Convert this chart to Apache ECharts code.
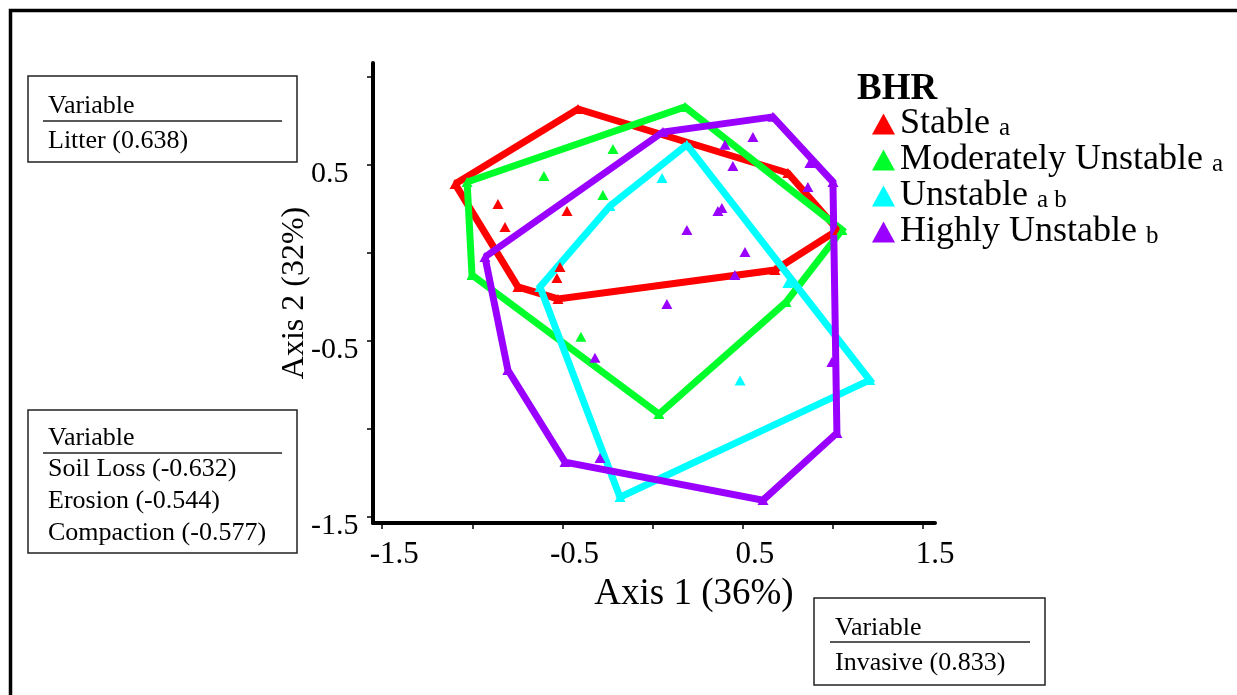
<!DOCTYPE html>
<html>
<head>
<meta charset="utf-8">
<script src="https://cdn.jsdelivr.net/npm/echarts@6/dist/echarts.min.js"></script>
<style>
  html, body { margin: 0; padding: 0; background: #fff; }
  #chart { width: 1237px; height: 695px; }
</style>
</head>
<body>
<div id="chart"></div>
<script>
// BHR groups, significance letters and colours
const groupNames = ['Stable', 'Moderately Unstable', 'Unstable', 'Highly Unstable'];
const groupLetters = ['a', 'a', 'a b', 'b'];
const groupColors = ['#ff0000', '#00ff2a', '#00ffff', '#9900ff'];

// Ordination scores [Axis 1, Axis 2]: hull corners (in drawing order) and interior plots
const stableHull = [[-1.096, 0.391], [-0.414, 0.817], [0.750, 0.453], [1.027, 0.130], [0.678, -0.098], [-0.525, -0.262], [-0.747, -0.194]];
const stableInner = [[-0.858, 0.277], [-0.819, 0.147], [-0.475, 0.238], [-0.514, -0.081], [-0.531, -0.143]];

const moderateHull = [[-1.029, 0.402], [0.179, 0.828], [1.050, 0.130], [0.740, -0.280], [0.035, -0.916], [-1.002, -0.126]];
const moderateInner = [[-0.603, 0.436], [-0.220, 0.590], [-0.276, 0.328], [-0.398, -0.477]];

const unstableHull = [[0.190, 0.613], [1.204, -0.723], [-0.181, -1.388], [-0.625, -0.194], [-0.237, 0.266]];
const unstableInner = [[0.052, 0.425], [0.485, -0.725], [0.750, -0.172]];

const highlyHull = [[-0.930, -0.024], [0.057, 0.686], [0.667, 0.772], [1.000, 0.402], [1.022, -1.024], [0.612, -1.405], [-0.486, -1.189], [-0.803, -0.666]];
const highlyInner = [[0.401, 0.613], [0.556, 0.658], [0.445, 0.493], [0.384, 0.255], [0.362, 0.238], [0.190, 0.130], [0.512, 0.005],
                     [0.861, 0.374], [0.872, 0.510], [0.456, -0.126], [0.994, -0.620], [0.079, -0.291], [-0.320, -0.597], [-0.292, -1.166]];

// Axis ticks and labelled values
const xTicks = [-1.5, -1, -0.5, 0, 0.5, 1, 1.5];
const xLabels = [-1.5, -0.5, 0.5, 1.5];
const yTicks = [-1.5, -1, -0.5, 0, 0.5, 1];
const yLabels = [-1.5, -0.5, 0.5];

// Variable loadings shown in the side boxes
const axis2Top = ['Litter (0.638)'];
const axis2Bottom = ['Soil Loss (-0.632)', 'Erosion (-0.544)', 'Compaction (-0.577)'];
const axis1Right = ['Invasive (0.833)'];

const hulls = [stableHull, moderateHull, unstableHull, highlyHull];
const inners = [stableInner, moderateInner, unstableInner, highlyInner];

const SERIF = '"Liberation Serif", "Times New Roman", serif';

const chart = echarts.init(document.getElementById('chart'), null, { renderer: 'canvas' });

const lineSeries = groupNames.map((name, i) => ({
  name: name,
  type: 'line',
  data: hulls[i].concat([hulls[i][0]]),
  showSymbol: false,
  symbol: 'none',
  lineStyle: { color: groupColors[i], width: 7, join: 'miter' },
  itemStyle: { color: groupColors[i] },
  z: 2 + i,
  silent: true,
  animation: false
}));

const pointSeries = groupNames.map((name, i) => ({
  name: name,
  type: 'scatter',
  data: hulls[i].concat(inners[i]),
  symbol: 'triangle',
  symbolSize: [11, 10],
  itemStyle: { color: groupColors[i], opacity: 1 },
  z: 10,
  silent: true,
  animation: false
}));

// Small bordered box with a "Variable" heading, a rule, and one row per variable
function variableBox(x, y, w, h, rows, ruleX0, ruleX1, textX, headY, ruleY, firstRowY, rowStep) {
  const children = [
    { type: 'rect', shape: { x: x, y: y, width: w, height: h },
      style: { fill: '#fff', stroke: '#222', lineWidth: 1.5 } },
    { type: 'text', x: textX, y: headY,
      style: { text: 'Variable', font: '26px ' + SERIF, fill: '#000', verticalAlign: 'middle' } },
    { type: 'line', shape: { x1: ruleX0, y1: ruleY, x2: ruleX1, y2: ruleY },
      style: { stroke: '#222', lineWidth: 1.5 } }
  ];
  rows.forEach((r, k) => {
    children.push({ type: 'text', x: textX, y: firstRowY + k * rowStep,
      style: { text: r, font: '26px ' + SERIF, fill: '#000', verticalAlign: 'middle' } });
  });
  return { type: 'group', children: children };
}

const option = {
  backgroundColor: '#fff',
  animation: false,
  title: {
    text: 'BHR',
    left: 857, top: 71, padding: 0,
    textStyle: { fontFamily: SERIF, fontWeight: 'bold', fontSize: 37, color: '#000' }
  },
  legend: {
    orient: 'vertical',
    left: 867, top: 101,
    itemWidth: 23, itemHeight: 21, itemGap: 0,
    icon: 'triangle',
    data: groupNames.map((n, i) => ({ name: n, icon: 'triangle', itemStyle: { color: groupColors[i] } })),
    formatter: function (name) {
      const i = groupNames.indexOf(name);
      return '{n|' + name + '}{s|' + groupLetters[i] + '}';
    },
    textStyle: {
      color: '#000',
      rich: {
        n: { fontFamily: SERIF, fontSize: 36, lineHeight: 34, color: '#000' },
        s: { fontFamily: SERIF, fontSize: 25, lineHeight: 27, color: '#000', verticalAlign: 'bottom', padding: [0, 0, 0, 9] }
      }
    },
    selectedMode: false
  },
  grid: { left: 373, top: 63, right: 302, bottom: 172, containLabel: false },
  xAxis: {
    type: 'value',
    min: -1.551, max: 1.566,
    name: 'Axis 1 (36%)',
    nameLocation: 'middle',
    nameGap: 53,
    nameMoveOverlap: false,
    nameTextStyle: { fontFamily: SERIF, fontSize: 37, color: '#000', padding: [0, 0, 0, 80] },
    axisLine: { onZero: false, lineStyle: { color: '#000', width: 4 } },
    axisTick: { customValues: xTicks, length: 6, lineStyle: { color: '#000', width: 1.5 } },
    axisLabel: { customValues: xLabels, fontFamily: SERIF, fontSize: 31, color: '#000', margin: 16, padding: [0, 0, 0, 24] },
    splitLine: { show: false }
  },
  yAxis: {
    type: 'value',
    min: -1.535, max: 1.078,
    name: 'Axis 2 (32%)',
    nameLocation: 'middle',
    nameGap: 62,
    nameMoveOverlap: false,
    nameTextStyle: { fontFamily: SERIF, fontSize: 32, color: '#000' },
    axisLine: { onZero: false, lineStyle: { color: '#000', width: 4 } },
    axisTick: { customValues: yTicks, length: 6, lineStyle: { color: '#000', width: 1.5 } },
    axisLabel: {
      customValues: yLabels, color: '#000', margin: 62, align: 'left',
      formatter: function (v) { return '{v|' + v + '}'; },
      rich: { v: { fontFamily: SERIF, fontSize: 30, color: '#000', lineHeight: 30, padding: [18, 0, 0, 0] } }
    },
    splitLine: { show: false }
  },
  graphic: [
    // outer frame
    { type: 'rect', shape: { x: 10.5, y: 10.5, width: 1400, height: 900 },
      style: { fill: 'none', stroke: '#000', lineWidth: 3.5 }, z: 100 },
    variableBox(28, 76, 269, 86, axis2Top, 43, 282, 48, 106, 121, 141, 32),
    variableBox(28, 410, 269, 143, axis2Bottom, 43, 282, 48, 438, 453, 469, 32),
    variableBox(814, 598, 231, 87, axis1Right, 830, 1030, 835, 628, 642, 663, 32)
  ],
  series: lineSeries.concat(pointSeries)
};

chart.setOption(option);
</script>
</body>
</html>
